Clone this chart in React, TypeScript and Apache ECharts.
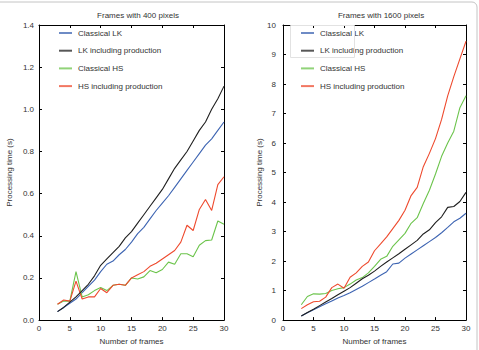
import React, { useEffect, useRef } from "react";
import * as echarts from "echarts";

const frames = [3, 4, 5, 6, 7, 8, 9, 10, 11, 12, 13, 14, 15, 16, 17, 18, 19, 20, 21, 22, 23, 24, 25, 26, 27, 28, 29, 30];

// 400-pixel frames (seconds)
const lk400 = [0.04, 0.06, 0.08, 0.1, 0.13, 0.16, 0.19, 0.23, 0.265, 0.28, 0.31, 0.335, 0.37, 0.41, 0.44, 0.48, 0.52, 0.555, 0.59, 0.63, 0.67, 0.71, 0.75, 0.79, 0.83, 0.86, 0.9, 0.94];
const lkProd400 = [0.04, 0.06, 0.085, 0.11, 0.14, 0.17, 0.21, 0.26, 0.29, 0.32, 0.35, 0.39, 0.42, 0.46, 0.5, 0.54, 0.58, 0.62, 0.67, 0.72, 0.76, 0.8, 0.85, 0.9, 0.94, 1.0, 1.05, 1.11];
const hs400 = [0.075, 0.09, 0.09, 0.23, 0.11, 0.12, 0.14, 0.155, 0.14, 0.165, 0.17, 0.165, 0.2, 0.195, 0.205, 0.235, 0.225, 0.24, 0.275, 0.265, 0.315, 0.315, 0.3, 0.355, 0.377, 0.38, 0.47, 0.455];
const hsProd400 = [0.075, 0.095, 0.09, 0.185, 0.1, 0.11, 0.11, 0.15, 0.13, 0.165, 0.17, 0.165, 0.2, 0.215, 0.23, 0.255, 0.27, 0.29, 0.31, 0.33, 0.37, 0.45, 0.425, 0.525, 0.572, 0.52, 0.643, 0.68];

// 1600-pixel frames (seconds)
const lk1600 = [0.14, 0.25, 0.35, 0.45, 0.55, 0.65, 0.75, 0.83, 0.93, 1.04, 1.15, 1.27, 1.39, 1.52, 1.64, 1.9, 1.93, 2.1, 2.24, 2.38, 2.52, 2.66, 2.8, 2.96, 3.14, 3.33, 3.45, 3.62];
const lkProd1600 = [0.14, 0.26, 0.37, 0.49, 0.61, 0.73, 0.86, 0.98, 1.1, 1.25, 1.4, 1.52, 1.66, 1.82, 1.97, 2.11, 2.25, 2.4, 2.55, 2.7, 2.92, 3.06, 3.3, 3.5, 3.82, 3.85, 4.02, 4.33];
const hs1600 = [0.52, 0.8, 0.89, 0.88, 0.9, 1.0, 1.06, 1.1, 1.22, 1.36, 1.44, 1.6, 1.82, 2.06, 2.16, 2.5, 2.72, 2.94, 3.28, 3.47, 3.95, 4.4, 4.95, 5.55, 6.0, 6.4, 7.2, 7.6];
const hsProd1600 = [0.39, 0.52, 0.62, 0.64, 0.78, 1.1, 1.22, 1.08, 1.45, 1.6, 1.82, 1.97, 2.35, 2.58, 2.82, 3.1, 3.38, 3.72, 4.22, 4.5, 5.2, 5.65, 6.15, 6.8, 7.6, 8.25, 8.85, 9.45];

const seriesNames = ["Classical LK", "LK including production", "Classical HS", "HS including production"];
const seriesColors = ["#3d64b2", "#1f1f1f", "#6cc44c", "#ee4a2e"];

const titles = ["Frames with 400 pixels", "Frames with 1600 pixels"];
const xName = "Number of frames";
const yName = "Processing time (s)";

const font = "Liberation Sans, Arial, sans-serif";
const textColor = "#333";

export default function App() {
  const ref = useRef<HTMLDivElement>(null);

  useEffect(() => {
    if (!ref.current) return;
    const chart = echarts.init(ref.current, null, { renderer: "svg" });

    const grids = [
      { left: 39, right: 255, top: 25, bottom: 25 },
      { left: 283, right: 13, top: 25, bottom: 25 },
    ];

    const xBase = (gi: number, pos: "bottom" | "top") => ({
      type: "value",
      gridIndex: gi,
      position: pos,
      min: 0,
      max: 30,
      interval: 5,
      name: pos === "bottom" ? xName : "",
      nameLocation: "middle",
      nameGap: 14,
      nameTextStyle: { fontSize: 8, color: textColor, fontFamily: font },
      axisLine: { show: true, onZero: false, lineStyle: { color: "#000", width: 1 } },
      axisTick: { show: true, inside: true, length: 3, lineStyle: { color: "#000" } },
      axisLabel: { show: pos === "bottom", fontSize: 8, color: textColor, fontFamily: font, margin: 4 },
      splitLine: { show: false },
    });

    const yBase = (gi: number, pos: "left" | "right", max: number, interval: number, decimals: number) => ({
      type: "value",
      gridIndex: gi,
      position: pos,
      min: 0,
      max,
      interval,
      name: pos === "left" ? yName : "",
      nameLocation: "middle",
      nameGap: gi === 0 ? 26 : 20,
      nameRotate: 90,
      nameTextStyle: { fontSize: 8, color: textColor, fontFamily: font },
      axisLine: { show: true, onZero: false, lineStyle: { color: "#000", width: 1 } },
      axisTick: { show: true, inside: true, length: 3, lineStyle: { color: "#000" } },
      axisLabel: {
        show: pos === "left",
        fontSize: 8,
        color: textColor,
        fontFamily: font,
        margin: gi === 0 ? 5 : 7,
        formatter: (v: number) => v.toFixed(decimals),
      },
      splitLine: { show: false },
    });

    const panels = [
      [lk400, lkProd400, hs400, hsProd400],
      [lk1600, lkProd1600, hs1600, hsProd1600],
    ];

    const series: any[] = [];
    panels.forEach((sets, gi) => {
      sets.forEach((vals, si) => {
        series.push({
          type: "line",
          name: seriesNames[si],
          xAxisIndex: gi * 2,
          yAxisIndex: gi * 2,
          data: frames.map((f, i) => [f, vals[i]]),
          showSymbol: false,
          symbol: "none",
          lineStyle: { color: seriesColors[si], width: 1.1 },
          itemStyle: { color: seriesColors[si] },
          z: si === 1 ? 3 : 2,
        });
      });
    });

    // Legend swatches are short horizontal strokes
    const legendBase = (left: number) => ({
      orient: "vertical",
      left,
      top: 24,
      itemWidth: 13,
      itemHeight: 2,
      itemGap: 9.7,
      icon: "rect",
      textStyle: { fontSize: 8, color: textColor, fontFamily: font, padding: [0, 0, 0, 1] },
      data: seriesNames.map((n, i) => ({
        name: n,
        itemStyle: { color: seriesColors[i], opacity: 0.75 },
      })),
      selectedMode: false,
    });

    chart.setOption({
      animation: false,
      backgroundColor: "#fff",
      title: [
        { text: titles[0], left: 133, top: 6, textAlign: "center", textStyle: { fontSize: 8, fontWeight: "normal", color: textColor, fontFamily: font } },
        { text: titles[1], left: 376, top: 6, textAlign: "center", textStyle: { fontSize: 8, fontWeight: "normal", color: textColor, fontFamily: font } },
      ],
      grid: grids,
      xAxis: [xBase(0, "bottom"), xBase(0, "top"), xBase(1, "bottom"), xBase(1, "top")],
      yAxis: [
        yBase(0, "left", 1.4, 0.2, 1),
        yBase(0, "right", 1.4, 0.2, 1),
        yBase(1, "left", 10, 1, 0),
        yBase(1, "right", 10, 1, 0),
      ],
      legend: [
        { ...legendBase(54) },
        { ...legendBase(296) },
      ],
      graphic: [
        {
          type: "rect",
          shape: { x: -6, y: 2, width: 483, height: 360, r: 5 },
          style: { fill: "none", stroke: "#c4c4c4", lineWidth: 1 },
          silent: true,
          z: 100,
        },
        {
          type: "rect",
          shape: { x: 290.5, y: 25.5, width: 64, height: 32 },
          style: { fill: "none", stroke: "#e2e2e2", lineWidth: 1 },
          silent: true,
          z: 100,
        },
      ],
      series,
    });

    return () => chart.dispose();
  }, []);

  return <div ref={ref} style={{ position: "fixed", left: 0, top: 0, width: 479, height: 350 }} />;
}
